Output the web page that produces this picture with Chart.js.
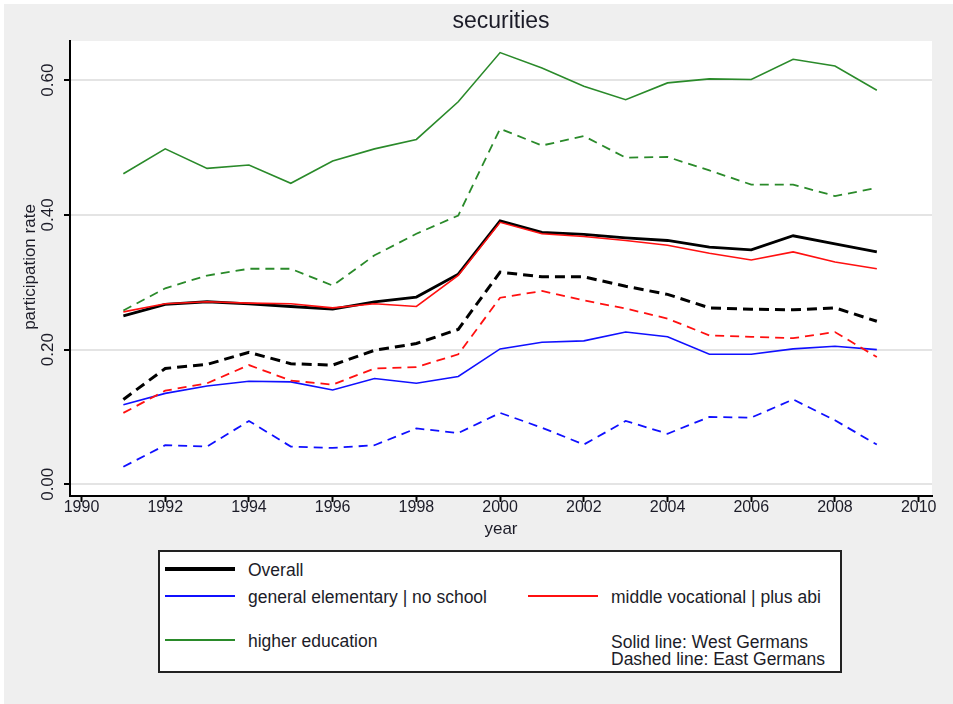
<!DOCTYPE html>
<html>
<head>
<meta charset="utf-8">
<script src="https://cdn.jsdelivr.net/npm/chart.js@4/dist/chart.umd.min.js"></script>
<style>
  html, body { margin: 0; padding: 0; background: #ffffff; }
  #wrap { position: relative; width: 953px; height: 704px; }
  canvas { position: absolute; left: 0; top: 0; }
  #legend { position: absolute; left: 158px; top: 550px; width: 680px; height: 119px;
            border: 2px solid #222; background: #fff; font-family: "Liberation Sans", Arial, sans-serif;
            font-size: 17.5px; color: #1c1c28; }
  .sw { position: absolute; height: 0; }
  .tx { position: absolute; white-space: nowrap; line-height: 18px; }
</style>
</head>
<body>
<div id="wrap">
  <canvas id="c" width="953" height="704"></canvas>
  <div id="legend"></div>
</div>
<script>
// Survey years
const years = [1991,1992,1993,1994,1995,1996,1997,1998,1999,2000,2001,2002,2003,2004,2005,2006,2007,2008,2009];

// Participation rate in securities, West (solid) and East (dashed) Germans
const overallWest = [0.250,0.267,0.271,0.268,0.264,0.260,0.271,0.278,0.312,0.391,0.374,0.371,0.366,0.362,0.352,0.348,0.369,0.357,0.345];
const overallEast = [0.126,0.172,0.178,0.196,0.179,0.177,0.199,0.209,0.230,0.315,0.308,0.308,0.294,0.282,0.262,0.260,0.259,0.262,0.242];
const elementaryWest = [0.118,0.135,0.146,0.153,0.152,0.140,0.157,0.150,0.160,0.201,0.211,0.213,0.226,0.219,0.193,0.193,0.201,0.205,0.200];
const elementaryEast = [0.026,0.058,0.056,0.094,0.056,0.054,0.058,0.083,0.076,0.106,0.084,0.059,0.094,0.075,0.100,0.099,0.126,0.095,0.059];
const middleWest = [0.256,0.268,0.271,0.269,0.268,0.262,0.268,0.264,0.310,0.389,0.372,0.368,0.362,0.355,0.343,0.333,0.345,0.330,0.320];
const middleEast = [0.106,0.139,0.150,0.177,0.154,0.148,0.172,0.174,0.193,0.277,0.287,0.273,0.261,0.246,0.221,0.219,0.217,0.226,0.189];
const higherWest = [0.461,0.498,0.469,0.474,0.447,0.480,0.498,0.512,0.568,0.641,0.618,0.591,0.571,0.596,0.602,0.601,0.631,0.621,0.585];
const higherEast = [0.258,0.291,0.310,0.320,0.320,0.295,0.340,0.372,0.399,0.528,0.503,0.517,0.485,0.486,0.466,0.445,0.445,0.428,0.440];

// Axis ticks
const xTicks = [1990,1992,1994,1996,1998,2000,2002,2004,2006,2008,2010];
const yTicks = [0.0, 0.2, 0.4, 0.6];
const yTickLabels = ["0.00", "0.20", "0.40", "0.60"];

const chartTitle = "securities";
const xTitle = "year";
const yTitle = "participation rate";

const FONT = '"Liberation Sans", Arial, sans-serif';
const BLACK = '#000000', BLUE = '#1010ff', RED = '#ff1010', GREEN = '#2a8a2a';

const pts = arr => years.map((y, i) => ({ x: y, y: arr[i] }));

function ds(label, arr, color, width, dash, order) {
  return {
    label, data: pts(arr), borderColor: color, backgroundColor: color,
    borderWidth: width, borderDash: dash, pointRadius: 0, tension: 0,
    fill: false, order
  };
}

const datasets = [
  ds('higher education (West)', higherWest, GREEN, 1.6, [], 1),
  ds('higher education (East)', higherEast, GREEN, 1.8, [9, 6], 1),
  ds('middle vocational | plus abi (West)', middleWest, RED, 1.6, [], 2),
  ds('middle vocational | plus abi (East)', middleEast, RED, 1.8, [9, 6], 2),
  ds('general elementary | no school (West)', elementaryWest, BLUE, 1.6, [], 2),
  ds('general elementary | no school (East)', elementaryEast, BLUE, 1.8, [9, 6], 2),
  ds('Overall (West)', overallWest, BLACK, 2.8, [], 3),
  ds('Overall (East)', overallEast, BLACK, 3, [10, 6], 3)
];

// Page backdrop, white plot region, and all axis text
const decor = {
  id: 'decor',
  beforeDraw(chart) {
    const { ctx, chartArea: a } = chart;
    ctx.save();
    ctx.fillStyle = '#ffffff';
    ctx.fillRect(0, 0, chart.width, chart.height);
    ctx.fillStyle = '#efefef';
    ctx.fillRect(4, 4, chart.width - 4, chart.height - 4);
    ctx.fillStyle = '#ffffff';
    ctx.fillRect(a.left, a.top, a.right - a.left, a.bottom - a.top);
    ctx.restore();
  },
  afterDraw(chart) {
    const { ctx, chartArea: a, scales: { x, y } } = chart;
    ctx.save();
    ctx.fillStyle = '#1c1c28';
    ctx.textAlign = 'center';
    ctx.textBaseline = 'middle';

    ctx.font = '23px ' + FONT;
    ctx.fillText(chartTitle, (a.left + a.right) / 2, 22);

    ctx.font = '16px ' + FONT;
    xTicks.forEach(v => ctx.fillText(String(v), x.getPixelForValue(v), 508));

    ctx.font = '17px ' + FONT;
    ctx.fillText(xTitle, (a.left + a.right) / 2, 529);

    ctx.font = '17px ' + FONT;
    yTicks.forEach((v, i) => {
      ctx.save();
      ctx.translate(48, y.getPixelForValue(v));
      ctx.rotate(-Math.PI / 2);
      ctx.fillText(yTickLabels[i], 0, 0);
      ctx.restore();
    });

    ctx.font = '17px ' + FONT;
    ctx.save();
    ctx.translate(30, 267);
    ctx.rotate(-Math.PI / 2);
    ctx.fillText(yTitle, 0, 0);
    ctx.restore();

    ctx.restore();
  }
};

new Chart(document.getElementById('c'), {
  type: 'line',
  data: { datasets },
  options: {
    responsive: false,
    devicePixelRatio: 1,
    animation: false,
    layout: { padding: { left: 64, right: 21, top: 41, bottom: 202 } },
    plugins: { legend: { display: false }, tooltip: { enabled: false }, title: { display: false } },
    scales: {
      x: {
        type: 'linear', min: 1989.725, max: 2010.318,
        afterBuildTicks: s => { s.ticks = xTicks.map(v => ({ value: v })); },
        ticks: { display: false },
        grid: { drawOnChartArea: false, drawTicks: true, tickLength: 6, tickColor: '#000', tickWidth: 2 },
        border: { display: true, color: '#000', width: 2 }
      },
      y: {
        type: 'linear', min: -0.0174, max: 0.6582,
        afterBuildTicks: s => { s.ticks = yTicks.map(v => ({ value: v })); },
        ticks: { display: false },
        grid: { color: '#e4e4e4', lineWidth: 2, drawTicks: true, tickLength: 6, tickColor: '#000', tickWidth: 2 },
        border: { display: true, color: '#000', width: 2 }
      }
    }
  },
  plugins: [decor]
});

// Key below the plot
const legendItems = [
  { text: 'Overall', color: BLACK, w: 4, lx: 5, ty: 17, tx: 88 },
  { text: 'general elementary | no school', color: BLUE, w: 2, lx: 5, ty: 44, tx: 88 },
  { text: 'middle vocational | plus abi', color: RED, w: 2, lx: 368, ty: 44, tx: 451 },
  { text: 'higher education', color: GREEN, w: 2, lx: 5, ty: 88, tx: 88 }
];
const notes = [
  { text: 'Solid line: West Germans', tx: 451, ty: 89 },
  { text: 'Dashed line: East Germans', tx: 451, ty: 106 }
];
const lg = document.getElementById('legend');
legendItems.forEach(it => {
  const sw = document.createElement('div');
  sw.className = 'sw';
  sw.style.left = it.lx + 'px';
  sw.style.width = '70px';
  sw.style.top = (it.ty - it.w / 2) + 'px';
  sw.style.borderTop = it.w + 'px solid ' + it.color;
  lg.appendChild(sw);
  const t = document.createElement('div');
  t.className = 'tx';
  t.style.left = it.tx + 'px';
  t.style.top = (it.ty - 8) + 'px';
  t.textContent = it.text;
  lg.appendChild(t);
});
notes.forEach(n => {
  const t = document.createElement('div');
  t.className = 'tx';
  t.style.left = n.tx + 'px';
  t.style.top = (n.ty - 8) + 'px';
  t.textContent = n.text;
  lg.appendChild(t);
});
</script>
</body>
</html>
